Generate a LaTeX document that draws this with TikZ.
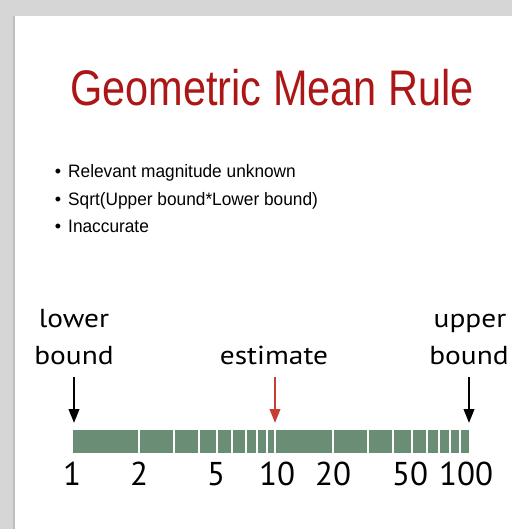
\documentclass[tikz,border=0pt]{standalone}
\usepackage{fontspec}
\setmainfont{Liberation Sans}
\newfontfamily\axisfont{PT Sans}
\usetikzlibrary{arrows.meta}
\definecolor{titlered}{RGB}{172,22,22}
\definecolor{bargreen}{RGB}{106,141,118}
\definecolor{estred}{RGB}{200,62,52}
\definecolor{shadowgray}{RGB}{214,214,214}
\definecolor{edgegray}{RGB}{190,190,190}
\newcommand{\axtxt}[1]{\scalebox{1.13}[1]{#1}}
\tikzset{
  titletext/.style={anchor=base, text=titlered, inner sep=0pt},
  bullettext/.style={anchor=base west, inner sep=0pt, font=\fontsize{18}{20}\selectfont},
  bulletdot/.style={anchor=base, inner sep=0pt, font=\fontsize{18}{20}\selectfont},
  axislabel/.style={anchor=base, inner sep=0pt, font=\axisfont\fontsize{26}{36}\selectfont},
  numlabel/.style={anchor=base, inner sep=0pt, font=\axisfont\fontsize{33}{36}\selectfont},
  pointer/.style={line width=2.2pt, -{Triangle[length=14pt,width=10.5pt]}},
  tickline/.style={white, line width=1.3pt}
}
\begin{document}
\begin{tikzpicture}[x=1pt,y=-1pt]
\useasboundingbox (0,0) rectangle (512,529);
% slide background
\fill[shadowgray] (0,0) rectangle (512,529);
\fill[white] (14,16) rectangle (512,529);
\draw[edgegray, line width=1.5pt] (14,16) -- (14,529);
% title
\node[titletext] (title) at (272,106) {\fontsize{50}{56}\selectfont\scalebox{0.83}[1]{Geometric Mean Rule}};
% bullets
\node[bulletdot] (d1) at (58,178) {\textbullet};
\node[bulletdot] (d2) at (58,205) {\textbullet};
\node[bulletdot] (d3) at (58,232) {\textbullet};
\node[bullettext] (b1) at (68,178) {\scalebox{0.96}[1]{Relevant magnitude unknown}};
\node[bullettext] (b2) at (68,205) {\scalebox{0.96}[1]{Sqrt(Upper bound*Lower bound)}};
\node[bullettext] (b3) at (68,232) {\scalebox{0.96}[1]{Inaccurate}};
% bar
\node[fill=bargreen, draw=none, minimum width=396pt, minimum height=23pt, inner sep=0pt, anchor=north west] (bar) at (73,430) {};
\foreach \t in {139,174,199,217,232,246,257,267,275,333,368,393,412,427,439,450,460}
  \draw[tickline] (\t,430) -- (\t,453);
% labels
\node[axislabel] (lower1) at (74,327) {\axtxt{lower}};
\node[axislabel] (lower2) at (74,364) {\axtxt{bound}};
\node[axislabel] (est) at (274,364) {\axtxt{estimate}};
\node[axislabel] (upper1) at (470,327) {\axtxt{upper}};
\node[axislabel] (upper2) at (469,364) {\axtxt{bound}};
% arrows
\coordinate (la) at (74,377);
\coordinate (lb) at (74,423);
\coordinate (ea) at (275,377);
\coordinate (eb) at (275,423);
\coordinate (ua) at (469,377);
\coordinate (ub) at (469,423);
\draw[pointer, black] (la) -- (lb);
\draw[pointer, estred] (ea) -- (eb);
\draw[pointer, black] (ua) -- (ub);
% numbers
\node[numlabel] (n1) at (72,485) {1};
\node[numlabel] (n2) at (139,485) {2};
\node[numlabel] (n5) at (216,485) {5};
\node[numlabel] (n10) at (277,485) {10};
\node[numlabel] (n20) at (333,485) {20};
\node[numlabel] (n50) at (410,485) {50};
\node[numlabel] (n100) at (466,485) {100};
\end{tikzpicture}
\end{document}
